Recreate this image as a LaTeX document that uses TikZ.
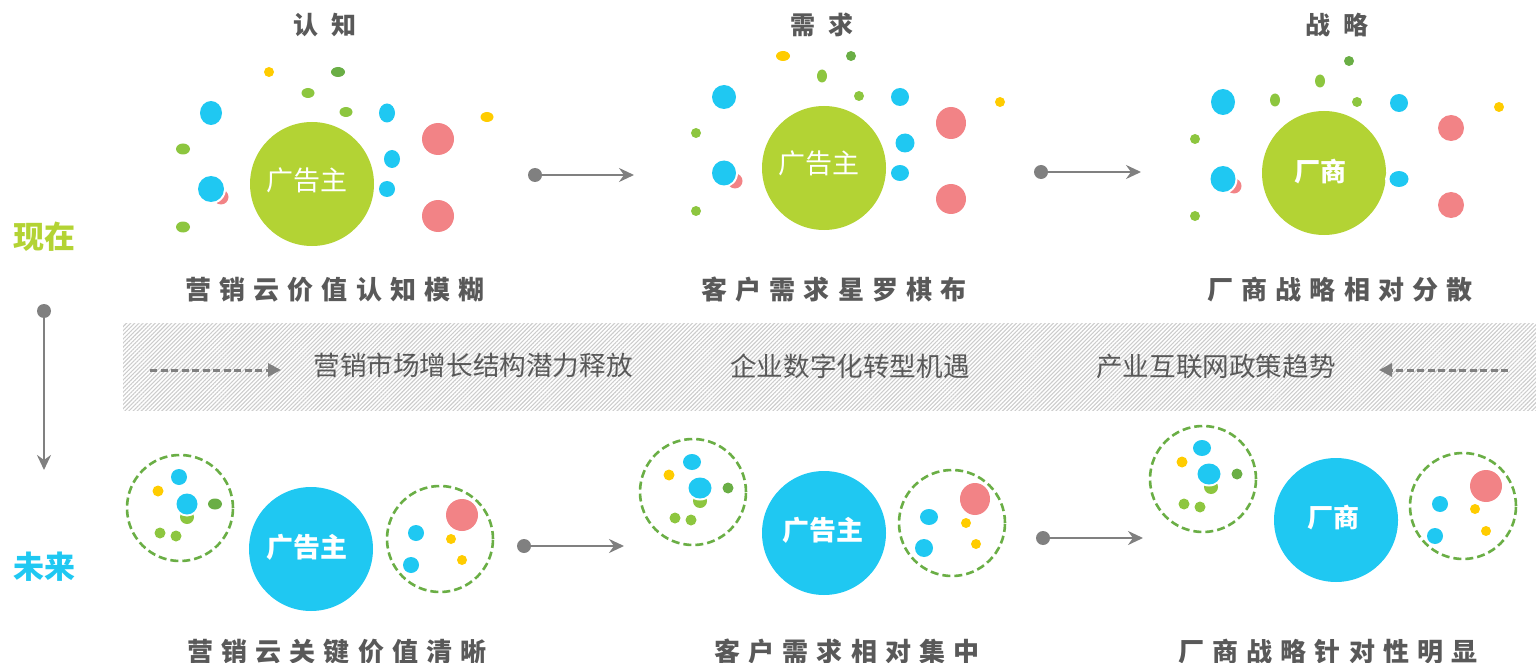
\documentclass[tikz,border=0pt]{standalone}
\usepackage{fontspec}
\setmainfont{Noto Sans CJK SC}
\newfontfamily\capfont{Noto Sans CJK SC}[LetterSpace=31]
\newfontfamily\hdfont{Noto Sans CJK SC}[LetterSpace=50]
\usetikzlibrary{arrows.meta,patterns.meta}
\definecolor{cgreen}{HTML}{B3D334}
\definecolor{cblue}{HTML}{1FC8F2}
\definecolor{cpink}{HTML}{F28386}
\definecolor{cyellow}{HTML}{FFCC00}
\definecolor{clgreen}{HTML}{8DC63F}
\definecolor{cdgreen}{HTML}{6AAE45}
\definecolor{carrow}{HTML}{808080}
\definecolor{ctext}{HTML}{595959}
\newcommand\dotE[5]{\fill[#1] (#2,#3) ellipse [x radius=#4, y radius=#5];}
\newcommand\dotW[5]{\fill[white] (#2,#3) ellipse [x radius=#4+2, y radius=#5+2];\fill[#1] (#2,#3) ellipse [x radius=#4, y radius=#5];}
\tikzset{
  big/.style={circle, minimum size=124pt, inner sep=0pt, text=white, font=\fontsize{27}{30}\selectfont},
  bigb/.style={big, font=\bfseries\fontsize{27}{30}\selectfont},
  dotstart/.style={circle, fill=carrow, minimum size=14pt, inner sep=0pt},
  conn/.style={carrow, line width=2.5pt, -{Stealth[length=15pt,width=14pt,inset=5pt]}},
  dconn/.style={carrow, line width=3pt, dash pattern=on 7pt off 3.5pt, -{Triangle[length=13pt,width=13pt]}},
  dcirc/.style={draw=cdgreen, line width=2.6pt, dash pattern=on 8pt off 4pt, circle, minimum size=106pt, inner sep=0pt},
  titletxt/.style={font=\hdfont\bfseries\fontsize{25}{28}\selectfont, text=ctext, inner sep=0pt},
  captxt/.style={font=\capfont\bfseries\fontsize{26}{28}\selectfont, text=ctext, inner sep=0pt},
  bandtxt/.style={font=\fontsize{26.6}{30}\selectfont, text=ctext, inner sep=0pt},
  sidetxt/.style={font=\bfseries\fontsize{31}{34}\selectfont, inner sep=0pt}
}
\begin{document}
\begin{tikzpicture}[x=1pt,y=-1pt]
\useasboundingbox (0,0) rectangle (1536,663);

% ---------------- side labels ----------------
\node[sidetxt, text=cgreen] (now) at (44,237) {现在};
\node[sidetxt, text=cblue] (fut) at (44,567) {未来};
\node[dotstart] (vstart) at (44,311) {};
\coordinate (vend) at (44,470);
\draw[conn] (vstart) -- (vend);

% ---------------- band ----------------
\path[pattern={Lines[angle=45,distance=2.9pt,line width=1.1pt]}, pattern color=black!20] (123,323) rectangle (1536,410);
\node[bandtxt] (b1) at (473,365) {营销市场增长结构潜力释放};
\node[bandtxt] (b2) at (850,366) {企业数字化转型机遇};
\node[bandtxt] (b3) at (1216,366) {产业互联网政策趋势};
\coordinate (dl1) at (150,370);
\coordinate (dl2) at (281,370);
\coordinate (dr1) at (1508,370);
\coordinate (dr2) at (1379,370);
\draw[dconn] (dl1) -- (dl2);
\draw[dconn] (dr1) -- (dr2);

% ---------------- top row titles ----------------
\node[titletxt] (t1) at (325,25) {认知};
\node[titletxt] (t2) at (822,25) {需求};
\node[titletxt] (t3) at (1337,25) {战略};
\node[captxt] (c1) at (335,290) {营销云价值认知模糊};
\node[captxt] (c2) at (834,290) {客户需求星罗棋布};
\node[captxt] (c3) at (1340,290) {厂商战略相对分散};

% ---------------- top panel 1 ----------------
\node[big, fill=cgreen] (p1) at (312,184) {};
\node[text=white, font=\fontsize{27}{30}\selectfont, inner sep=0pt] (p1t) at (307,180) {广告主};
\dotE{cyellow}{269}{72}{5}{5}
\dotE{cdgreen}{338}{72}{7}{5}
\dotE{clgreen}{308}{93}{6.5}{5}
\dotE{clgreen}{346}{112}{6.5}{5}
\dotE{cblue}{211}{113}{11}{12}
\dotE{cblue}{387}{113}{8}{9.5}
\dotE{cyellow}{487}{117}{6.5}{5}
\dotE{cpink}{438}{139}{16}{16}
\dotE{clgreen}{183}{149}{7}{5.5}
\dotE{cblue}{392}{159}{8}{9}
\dotE{cpink}{221}{197}{7.5}{7.5}
\dotW{cblue}{211}{189}{13}{13}
\dotE{cblue}{387}{189}{8}{8}
\dotE{cpink}{438}{216}{16}{16}
\dotE{clgreen}{183}{227}{7}{5.5}

% ---------------- top panel 2 ----------------
\node[big, fill=cgreen] (p2) at (824,168) {};
\node[text=white, font=\fontsize{27}{30}\selectfont, inner sep=0pt] (p2t) at (819,163) {广告主};
\dotE{cyellow}{783}{56}{7}{5}
\dotE{cdgreen}{851}{56}{5}{5}
\dotE{clgreen}{822}{76}{5}{6.5}
\dotE{clgreen}{859}{96}{5}{5}
\dotE{cblue}{724}{97}{12}{12}
\dotE{cblue}{900}{97}{9}{9}
\dotE{cyellow}{1000}{102}{5}{5}
\dotE{cpink}{951}{123}{15}{16}
\dotE{clgreen}{696}{133}{5}{5}
\dotE{cblue}{905}{143}{9.5}{9.5}
\dotE{cpink}{735}{181}{7.5}{7.5}
\dotW{cblue}{724}{173}{12}{12.5}
\dotE{cblue}{900}{173}{9}{8}
\dotE{cpink}{951}{199}{15}{15}
\dotE{clgreen}{696}{211}{5}{5}

% ---------------- top panel 3 ----------------
\node[bigb, fill=cgreen] (p3) at (1324,173) {};
\node[text=white, font=\bfseries\fontsize{26}{30}\selectfont, inner sep=0pt] (p3t) at (1320,172) {厂商};
\dotE{cdgreen}{1349}{61}{5}{5}
\dotE{clgreen}{1320}{81}{5}{6.5}
\dotE{clgreen}{1275}{100}{5}{6.5}
\dotE{clgreen}{1357}{102}{5}{5}
\dotE{cblue}{1223}{102}{12}{13}
\dotE{cblue}{1399}{103}{9}{9}
\dotE{cyellow}{1499}{107}{5}{5}
\dotE{cpink}{1451}{128}{13}{13}
\dotE{clgreen}{1195}{139}{5}{5}
\dotE{cpink}{1234}{186}{7.5}{7.5}
\dotW{cblue}{1223}{179}{12.5}{13}
\fill[white] (1399,179) ellipse [x radius=14, y radius=12];
\dotE{cblue}{1399}{179}{9.5}{8}
\dotE{cpink}{1451}{205}{13}{13}
\dotE{clgreen}{1195}{216}{5}{5}

% ---------------- top arrows ----------------
\node[dotstart] (a1s) at (535,175) {};
\coordinate (a1e) at (634,175);
\draw[conn] (a1s) -- (a1e);
\node[dotstart] (a2s) at (1041,172) {};
\coordinate (a2e) at (1141,172);
\draw[conn] (a2s) -- (a2e);

% ---------------- bottom panel 1 ----------------
\node[dcirc] (q1l) at (180,508) {};
\dotE{cblue}{179}{477}{8}{8}
\dotE{cyellow}{158}{491}{5.5}{5.5}
\dotE{clgreen}{187}{517}{7}{7}
\dotW{cblue}{187}{504}{10.5}{10.5}
\dotE{cdgreen}{215}{504}{7}{5.5}
\dotE{clgreen}{160}{533}{5.5}{5.5}
\dotE{clgreen}{176}{536}{5.5}{5.5}
\node[bigb, fill=cblue] (q1) at (311,549) {};
\node[text=white, font=\bfseries\fontsize{27}{30}\selectfont, inner sep=0pt] (q1t) at (307,547) {广告主};
\node[dcirc] (q1r) at (440,539) {};
\dotE{cpink}{462}{515}{16}{16}
\dotE{cblue}{416}{533}{8}{8}
\dotE{cyellow}{451}{539}{5}{5}
\dotE{cblue}{411}{565}{8}{8}
\dotE{cyellow}{462}{560}{5}{5}

% ---------------- bottom panel 2 ----------------
\node[dcirc] (q2l) at (693,492) {};
\dotE{cblue}{692}{462}{9}{8}
\dotE{cyellow}{669}{475}{5.5}{5.5}
\dotE{clgreen}{700}{501}{7}{7}
\dotW{cblue}{700}{488}{11.5}{10.5}
\dotE{cdgreen}{728}{488}{5.5}{5.5}
\dotE{clgreen}{675}{518}{5.5}{5.5}
\dotE{clgreen}{691}{520}{5.5}{5.5}
\node[bigb, fill=cblue] (q2) at (824,533) {};
\node[text=white, font=\bfseries\fontsize{27}{30}\selectfont, inner sep=0pt] (q2t) at (823,530) {广告主};
\node[dcirc] (q2r) at (952,523) {};
\dotE{cpink}{975}{499}{15}{16}
\dotE{cblue}{929}{517}{9}{8}
\dotE{cyellow}{966}{523}{5}{5}
\dotE{cblue}{924}{548}{9}{9}
\dotE{cyellow}{976}{544}{5}{5}

% ---------------- bottom panel 3 ----------------
\node[dcirc] (q3l) at (1203,479) {};
\dotE{cblue}{1202}{448}{9}{8}
\dotE{cyellow}{1182}{462}{5.5}{5.5}
\dotE{clgreen}{1211}{487}{7}{7}
\dotW{cblue}{1209}{474}{11.5}{10.5}
\dotE{cdgreen}{1237}{474}{5.5}{5.5}
\dotE{clgreen}{1184}{504}{5.5}{5.5}
\dotE{clgreen}{1200}{507}{5.5}{5.5}
\node[bigb, fill=cblue] (q3) at (1336,520) {};
\node[text=white, font=\bfseries\fontsize{26}{30}\selectfont, inner sep=0pt] (q3t) at (1333,518) {厂商};
\node[dcirc] (q3r) at (1463,506) {};
\dotE{cpink}{1486}{486}{16}{16}
\dotE{cblue}{1440}{504}{8}{8}
\dotE{cyellow}{1475}{509}{5}{5}
\dotE{cblue}{1435}{536}{8}{8}
\dotE{cyellow}{1486}{531}{5}{5}

% ---------------- bottom arrows ----------------
\node[dotstart] (b1s) at (524,546) {};
\coordinate (b1e) at (624,546);
\draw[conn] (b1s) -- (b1e);
\node[dotstart] (b2s) at (1043,538) {};
\coordinate (b2e) at (1143,538);
\draw[conn] (b2s) -- (b2e);

% ---------------- bottom captions ----------------
\node[captxt] (d1) at (337,652) {营销云关键价值清晰};
\node[captxt] (d2) at (847,652) {客户需求相对集中};
\node[captxt] (d3) at (1328,652) {厂商战略针对性明显};
\end{tikzpicture}
\end{document}
